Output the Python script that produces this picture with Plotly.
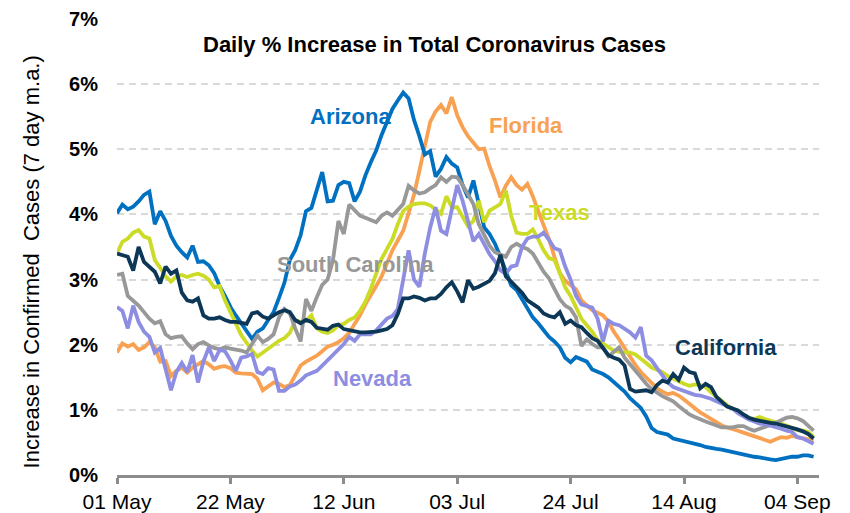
import pandas as pd
import plotly.graph_objects as go

# ---------------- data (daily % increase, 7 day m.a.) ----------------
start_date = "2020-05-01"
n_days = 130

arizona = [4.02, 4.15, 4.08, 4.12, 4.20, 4.30, 4.35, 3.85, 4.05, 3.90,
           3.67, 3.52, 3.42, 3.34, 3.52, 3.27, 3.28, 3.22, 3.10, 2.90,
           2.75, 2.58, 2.45, 2.33, 2.20, 2.09, 2.20, 2.25, 2.38, 2.50,
           2.72, 2.95, 3.30, 3.45, 3.68, 4.05, 4.10, 4.38, 4.65, 4.20,
           4.21, 4.45, 4.50, 4.48, 4.20, 4.35, 4.60, 4.80, 4.98, 5.22,
           5.42, 5.62, 5.75, 5.87, 5.78, 5.45, 5.20, 4.92, 4.97, 4.58,
           4.70, 4.88, 4.78, 4.72, 4.45, 4.26, 4.52, 4.16, 3.80, 3.70,
           3.55, 3.35, 3.14, 2.91, 2.84, 2.70, 2.58, 2.42, 2.33, 2.22,
           2.12, 2.05, 1.96, 1.80, 1.73, 1.81, 1.77, 1.74, 1.62, 1.59,
           1.55, 1.50, 1.43, 1.35, 1.28, 1.18, 1.10, 1.03, 0.90, 0.72,
           0.66, 0.64, 0.62, 0.56, 0.54, 0.52, 0.51, 0.49, 0.46, 0.43,
           0.41, 0.40, 0.39, 0.37, 0.35, 0.33, 0.31, 0.29, 0.28, 0.27,
           0.25, 0.24, 0.23, 0.25, 0.27, 0.28, 0.28, 0.30, 0.30, 0.28]

florida = [1.88, 2.02, 1.97, 2.01, 1.92, 1.96, 2.04, 1.96, 1.74, 1.75,
           1.52, 1.60, 1.65, 1.57, 1.65, 1.70, 1.75, 1.70, 1.63, 1.66,
           1.67, 1.64, 1.57, 1.56, 1.55, 1.55, 1.48, 1.30, 1.36, 1.42,
           1.40, 1.35, 1.38, 1.52, 1.68, 1.74, 1.78, 1.83, 1.90, 1.97,
           2.00, 2.04, 2.10, 2.18, 2.32, 2.45, 2.62, 2.75, 2.90, 3.05,
           3.25, 3.45, 3.60, 3.75, 4.02, 4.30, 4.67, 5.08, 5.42, 5.58,
           5.68, 5.55, 5.80, 5.52, 5.34, 5.20, 5.10, 5.00, 5.01, 4.74,
           4.52, 4.26, 4.44, 4.57, 4.45, 4.38, 4.47, 4.28, 4.05, 3.85,
           3.62, 3.35, 3.10, 2.98, 2.92, 2.85, 2.68, 2.60, 2.53, 2.49,
           2.45, 2.35, 2.20, 2.08, 1.95, 1.80, 1.69, 1.58, 1.50, 1.40,
           1.33, 1.28, 1.24, 1.26, 1.22, 1.16, 1.09, 1.02, 0.96, 0.91,
           0.86, 0.81, 0.76, 0.73, 0.71, 0.68, 0.65, 0.62, 0.60, 0.57,
           0.54, 0.51, 0.55, 0.58, 0.57, 0.60, 0.58, 0.56, 0.55, 0.53]

texas = [3.40, 3.58, 3.63, 3.72, 3.76, 3.66, 3.63, 3.30, 3.18, 3.05,
         2.97, 3.05, 3.07, 3.04, 3.07, 3.09, 3.06, 3.00, 2.88, 2.90,
         2.68, 2.50, 2.32, 2.15, 2.03, 1.91, 1.82, 1.88, 1.95, 2.00,
         2.06, 2.10, 2.18, 2.37, 2.35, 2.37, 2.45, 2.25, 2.20, 2.18,
         2.22, 2.30, 2.32, 2.38, 2.42, 2.52, 2.66, 2.86, 3.10, 3.32,
         3.47, 3.62, 3.85, 4.05, 4.12, 4.16, 4.17, 4.17, 4.14, 4.08,
         4.01, 4.28, 4.11, 4.11, 3.95, 3.82, 3.90, 4.21, 3.88, 4.06,
         4.11, 4.16, 4.37, 3.98, 3.72, 3.70, 3.70, 3.77, 3.62, 3.45,
         3.33, 3.30, 3.10, 2.88, 2.75, 2.57, 2.40, 2.30, 2.20, 2.07,
         2.02, 1.97, 1.91, 1.89, 1.88, 1.88, 1.85, 1.79, 1.72, 1.65,
         1.62, 1.58, 1.52, 1.48, 1.43, 1.40, 1.37, 1.39, 1.38, 1.35,
         1.27, 1.20, 1.14, 1.07, 1.02, 0.97, 0.92, 0.87, 0.86, 0.89,
         0.86, 0.83, 0.81, 0.79, 0.76, 0.73, 0.69, 0.68, 0.66, 0.58]

south_carolina = [3.07, 3.09, 2.75, 2.68, 2.60, 2.50, 2.40, 2.33, 2.36, 2.16,
                  2.10, 2.12, 2.13, 2.02, 1.93, 2.01, 2.04, 1.99, 1.95, 1.93,
                  1.96, 1.94, 1.93, 1.91, 1.88, 2.00, 2.14, 2.04, 2.09, 2.16,
                  2.42, 2.55, 2.48, 2.25, 2.05, 2.70, 2.52, 2.73, 2.92, 3.00,
                  3.30, 3.90, 3.70, 4.15, 4.06, 3.98, 3.95, 3.92, 3.88, 3.98,
                  4.03, 3.98, 4.06, 4.16, 4.44, 4.37, 4.32, 4.34, 4.40, 4.45,
                  4.57, 4.50, 4.58, 4.57, 4.45, 4.29, 4.16, 3.85, 3.68, 3.52,
                  3.42, 3.38, 3.35, 3.50, 3.55, 3.50, 3.47, 3.40, 3.25, 3.12,
                  3.02, 2.85, 2.70, 2.60, 2.55, 2.42, 1.98, 2.08, 2.01, 1.96,
                  1.96, 1.82, 1.90, 1.96, 1.80, 1.70, 1.58, 1.48, 1.40, 1.32,
                  1.26, 1.21, 1.17, 1.13, 1.06, 0.99, 0.93, 0.89, 0.85, 0.82,
                  0.79, 0.76, 0.73, 0.73, 0.73, 0.75, 0.75, 0.71, 0.68, 0.71,
                  0.74, 0.76, 0.80, 0.84, 0.88, 0.89, 0.87, 0.83, 0.76, 0.68]

california = [3.40, 3.38, 3.35, 3.14, 3.50, 3.27, 3.20, 3.12, 2.94, 3.20,
              3.09, 3.14, 2.80, 2.68, 2.66, 2.71, 2.45, 2.40, 2.40, 2.42,
              2.38, 2.35, 2.35, 2.34, 2.32, 2.48, 2.50, 2.43, 2.40, 2.45,
              2.50, 2.53, 2.50, 2.38, 2.33, 2.38, 2.35, 2.26, 2.24, 2.23,
              2.29, 2.31, 2.24, 2.22, 2.21, 2.19, 2.19, 2.19, 2.20, 2.22,
              2.24, 2.30, 2.47, 2.71, 2.71, 2.74, 2.72, 2.68, 2.71, 2.71,
              2.78, 2.88, 2.96, 2.82, 2.65, 2.99, 2.86, 2.89, 2.94, 2.98,
              3.10, 3.38, 3.05, 2.97, 2.90, 2.80, 2.68, 2.63, 2.57, 2.48,
              2.44, 2.42, 2.50, 2.32, 2.37, 2.30, 2.27, 2.18, 2.10, 2.06,
              1.95, 1.84, 1.80, 1.77, 1.68, 1.32, 1.28, 1.29, 1.30, 1.27,
              1.38, 1.45, 1.42, 1.55, 1.46, 1.65, 1.58, 1.56, 1.33, 1.40,
              1.35, 1.20, 1.12, 1.05, 1.02, 0.99, 0.93, 0.88, 0.85, 0.83,
              0.81, 0.80, 0.79, 0.77, 0.75, 0.72, 0.70, 0.67, 0.63, 0.56]

nevada = [2.58, 2.52, 2.25, 2.60, 2.35, 2.20, 2.12, 1.88, 1.95, 1.62,
          1.30, 1.58, 1.72, 1.58, 1.84, 1.42, 1.74, 1.96, 1.75, 1.92,
          1.90, 1.76, 1.60, 1.80, 1.82, 1.86, 1.58, 1.55, 1.64, 1.62,
          1.29, 1.29, 1.36, 1.39, 1.45, 1.53, 1.56, 1.60, 1.68, 1.76,
          1.86, 1.92, 2.01, 2.12, 2.06, 2.16, 2.16, 2.16, 2.22, 2.30,
          2.40, 2.44, 2.55, 3.00, 3.45, 3.00, 2.89, 3.40, 3.80, 4.11,
          3.75, 3.70, 4.05, 4.45, 4.21, 3.90, 3.59, 3.70, 3.54, 3.39,
          3.28, 3.14, 3.09, 3.20, 3.22, 3.50, 3.63, 3.66, 3.66, 3.72,
          3.61, 3.48, 3.45, 3.20, 3.00, 2.75, 2.62, 2.60, 2.57, 2.40,
          2.05, 2.37, 2.32, 2.30, 2.25, 2.19, 2.11, 2.27, 1.83, 1.76,
          1.64, 1.52, 1.42, 1.35, 1.32, 1.29, 1.26, 1.23, 1.22, 1.20,
          1.17, 1.13, 1.09, 1.05, 1.02, 0.95, 0.90, 0.85, 0.82, 0.79,
          0.78, 0.76, 0.74, 0.71, 0.68, 0.66, 0.58, 0.56, 0.52, 0.48]

tick_dates = ["2020-05-01", "2020-05-22", "2020-06-12", "2020-07-03",
              "2020-07-24", "2020-08-14", "2020-09-04"]
tick_labels = ["01 May", "22 May", "12 Jun", "03 Jul", "24 Jul", "14 Aug", "04 Sep"]
y_ticks = [0, 1, 2, 3, 4, 5, 6, 7]
y_tick_labels = ["0%", "1%", "2%", "3%", "4%", "5%", "6%", "7%"]

dates = pd.date_range(start_date, periods=n_days)

# ---------------- styling ----------------
# the page body has an 8px default margin, so the figure is drawn at (8, 8)
OFF = 8
W, H = 850 - OFF, 513 - OFF
ML, MR, MT, MB = 116.5 - OFF, 30.5, 19 - OFF, 37.7
FONT = "Liberation Sans, Arial, sans-serif"

series = [
    ("Florida", florida, "#F9A152"),
    ("Arizona", arizona, "#0070C0"),
    ("Texas", texas, "#CBDB26"),
    ("South Carolina", south_carolina, "#989898"),
    ("Nevada", nevada, "#8D8DE2"),
    ("California", california, "#0C3757"),
]

fig = go.Figure()
for name, vals, color in series:
    fig.add_trace(go.Scatter(
        x=dates, y=vals, mode="lines", name=name,
        line=dict(color=color, width=3.8),
        showlegend=False,
    ))


def px(xp, yp):
    """page pixel -> paper coordinates"""
    xp -= OFF
    yp -= OFF
    return (xp - ML) / (W - ML - MR), (H - MB - yp) / (H - MT - MB)


label_pos = {
    "Arizona": (350, 117),
    "Florida": (526, 126),
    "Texas": (560, 213),
    "South Carolina": (355, 265),
    "Nevada": (372, 379),
    "California": (726, 348),
}
for name, vals, color in series:
    lx, ly = px(*label_pos[name])
    fig.add_annotation(x=lx, y=ly, xref="paper", yref="paper", text="<b>%s</b>" % name,
                       showarrow=False, font=dict(family=FONT, size=22, color=color),
                       xanchor="center", yanchor="middle")

tx, ty = px(434, 45)
fig.add_annotation(x=tx, y=ty, xref="paper", yref="paper",
                   text="<b>Daily % Increase in Total Coronavirus Cases</b>",
                   showarrow=False, font=dict(family=FONT, size=22, color="#000000"),
                   xanchor="center", yanchor="middle")

ax, ay = px(31, 262)
fig.add_annotation(x=ax, y=ay, xref="paper", yref="paper",
                   text="Increase in Confirmed  Cases (7 day m.a.)", textangle=-90,
                   showarrow=False, font=dict(family=FONT, size=22, color="#000000"),
                   xanchor="center", yanchor="middle")

fig.update_layout(
    width=W, height=H,
    margin=dict(l=ML, r=MR, t=MT, b=MB, autoexpand=False),
    paper_bgcolor="white", plot_bgcolor="white",
    font=dict(family=FONT, size=21, color="#000000"),
)
fig.update_xaxes(
    range=["2020-05-01", "2020-09-08"],
    tickvals=tick_dates, ticktext=tick_labels,
    showgrid=False, zeroline=False,
    showline=True, linecolor="#8C8C8C", linewidth=2.5,
    ticks="outside", ticklen=6, tickwidth=2.5, tickcolor="#8C8C8C",
    tickfont=dict(family=FONT, size=21, color="#000000"),
)
fig.update_yaxes(
    range=[0, 7], tickvals=y_ticks, ticktext=["<b>%s</b>" % t for t in y_tick_labels],
    showgrid=True, gridcolor="#D9D9D9", gridwidth=1.5, griddash="7px,5px",
    zeroline=False, showline=False, ticks="", ticklabelstandoff=18,
    tickfont=dict(family=FONT, size=20, color="#000000"),
)

fig.write_html("out.html")
